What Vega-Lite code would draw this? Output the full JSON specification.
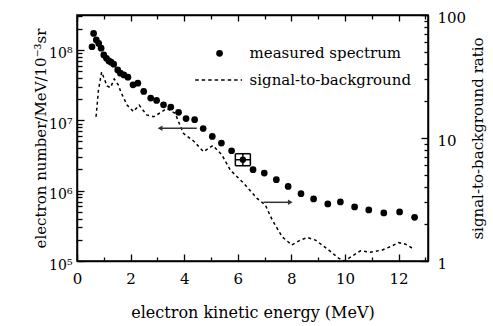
{
  "$schema": "https://vega.github.io/schema/vega-lite/v6.json",
  "width": 351,
  "height": 246,
  "autosize": {"type": "none"},
  "padding": {"left": 77, "top": 15, "right": 65, "bottom": 65},
  "background": "white",
  "config": {
    "font": "DejaVu Serif",
    "view": {"stroke": "black", "strokeWidth": 1.5},
    "text": {"font": "DejaVu Serif"},
    "axis": {
      "labelFont": "DejaVu Serif",
      "titleFont": "DejaVu Serif",
      "labelColor": "black",
      "titleColor": "black",
      "titleFontWeight": "normal",
      "domainColor": "black",
      "domainWidth": 1.5,
      "tickColor": "black",
      "tickWidth": 1.3,
      "grid": false,
      "labelFlush": false,
      "labelOverlap": false
    }
  },
  "datasets": {
    "spectrum": [
      {"E": 0.56, "N": 111000000}, {"E": 0.62, "N": 172000000}, {"E": 0.72, "N": 139000000},
      {"E": 0.81, "N": 124000000}, {"E": 0.90, "N": 106000000}, {"E": 1.00, "N": 85000000},
      {"E": 1.10, "N": 76000000}, {"E": 1.19, "N": 69800000}, {"E": 1.27, "N": 67000000},
      {"E": 1.37, "N": 62700000}, {"E": 1.52, "N": 52000000}, {"E": 1.62, "N": 46700000},
      {"E": 1.75, "N": 44200000}, {"E": 1.90, "N": 41000000}, {"E": 2.09, "N": 31900000},
      {"E": 2.27, "N": 33700000}, {"E": 2.49, "N": 25700000}, {"E": 2.75, "N": 20700000},
      {"E": 2.97, "N": 19200000}, {"E": 3.23, "N": 16600000}, {"E": 3.50, "N": 15400000},
      {"E": 3.79, "N": 13000000}, {"E": 4.07, "N": 10600000}, {"E": 4.39, "N": 10200000},
      {"E": 4.71, "N": 7650000}, {"E": 5.05, "N": 5900000}, {"E": 5.39, "N": 4750000},
      {"E": 5.77, "N": 3690000}, {"E": 6.57, "N": 1990000}, {"E": 6.99, "N": 1780000},
      {"E": 7.44, "N": 1430000}, {"E": 7.88, "N": 1150000}, {"E": 8.36, "N": 906000},
      {"E": 8.83, "N": 762000}, {"E": 9.36, "N": 647000}, {"E": 9.83, "N": 692000},
      {"E": 10.36, "N": 587000}, {"E": 10.89, "N": 532000}, {"E": 11.45, "N": 483000},
      {"E": 12.04, "N": 499000}, {"E": 12.60, "N": 418000}
    ],
    "ratio": [
      {"E": 0.71, "R": 14.9}, {"E": 0.77, "R": 20.4}, {"E": 0.80, "R": 24.5}, {"E": 0.92, "R": 34.4},
      {"E": 1.01, "R": 30.6}, {"E": 1.12, "R": 26.5}, {"E": 1.25, "R": 25.7}, {"E": 1.39, "R": 30.2},
      {"E": 1.54, "R": 27.0}, {"E": 1.64, "R": 23.6}, {"E": 1.87, "R": 18.5}, {"E": 2.11, "R": 16.4},
      {"E": 2.32, "R": 18.5}, {"E": 2.60, "R": 15.4}, {"E": 2.86, "R": 14.9}, {"E": 3.10, "R": 16.0},
      {"E": 3.35, "R": 17.4}, {"E": 3.66, "R": 15.9}, {"E": 3.97, "R": 10.9}, {"E": 4.35, "R": 9.46},
      {"E": 4.72, "R": 7.74}, {"E": 5.07, "R": 8.69}, {"E": 5.41, "R": 7.28}, {"E": 5.72, "R": 5.49},
      {"E": 6.22, "R": 4.29}, {"E": 6.72, "R": 3.23}, {"E": 7.03, "R": 2.85}, {"E": 7.29, "R": 2.15},
      {"E": 7.66, "R": 1.57}, {"E": 8.02, "R": 1.35}, {"E": 8.34, "R": 1.48}, {"E": 8.60, "R": 1.55},
      {"E": 8.90, "R": 1.48}, {"E": 9.39, "R": 1.23}, {"E": 9.77, "R": 1.05}, {"E": 9.98, "R": 1.0},
      {"E": 10.28, "R": 1.10}, {"E": 10.58, "R": 1.21}, {"E": 10.95, "R": 1.18}, {"E": 11.40, "R": 1.23},
      {"E": 11.70, "R": 1.31}, {"E": 12.01, "R": 1.41}, {"E": 12.26, "R": 1.37}, {"E": 12.57, "R": 1.25}
    ],
    "errbar": [
      {"E": 6.19, "Elo": 5.91, "Ehi": 6.47, "N": 2750000, "Nlo": 2260000, "Nhi": 3350000}
    ],
    "arrows": [
      {"Efrom": 4.47, "Eto": 3.10, "N": 7690000, "dir": "left"},
      {"Efrom": 6.96, "Eto": 7.96, "N": 683000, "dir": "right"}
    ],
    "legend": [
      {"label": "measured spectrum", "sym": "dot", "Etext": 6.44, "Es1": 5.32, "Es2": 5.32, "N": 89700000},
      {"label": "signal-to-background", "sym": "dash", "Etext": 6.44, "Es1": 4.41, "Es2": 6.16, "N": 37500000}
    ]
  },
  "resolve": {"scale": {"x": "independent", "y": "independent"}},
  "layer": [
    {
      "data": {"name": "ratio"},
      "mark": {"type": "line", "color": "black", "strokeWidth": 1.5, "strokeDash": [3, 3]},
      "encoding": {
        "x": {"field": "E", "type": "quantitative",
          "scale": {"domain": [0, 13.1], "nice": false, "zero": false},
          "axis": {"orient": "top", "values": [0,1,2,3,4,5,6,7,8,9,10,11,12,13], "labels": false, "title": null,
            "tickSize": {"condition": {"test": "datum.value % 2 == 0", "value": -6}, "value": -4}}},
        "y": {"field": "R", "type": "quantitative",
          "scale": {"type": "log", "domain": [1, 100], "nice": false},
          "axis": {"orient": "right", "values": [1,2,3,4,5,6,7,8,9,10,20,30,40,50,60,70,80,90,100],
            "labelExpr": "datum.value == 1 || datum.value == 10 || datum.value == 100 ? datum.label : ''",
            "tickSize": {"condition": {"test": "datum.value == 1 || datum.value == 10 || datum.value == 100", "value": -7}, "value": -4},
            "labelFontSize": 15, "labelPadding": 16, "labelOffset": 2, "labelBaseline": "middle",
            "title": "signal-to-background ratio", "titleFontSize": 15, "titleAngle": -90, "titlePadding": 20}}
      }
    },
    {
      "data": {"name": "spectrum"},
      "mark": {"type": "point", "filled": true, "shape": "circle", "size": 45, "color": "black", "opacity": 1},
      "encoding": {
        "x": {"field": "E", "type": "quantitative",
          "scale": {"domain": [0, 13.1], "nice": false, "zero": false},
          "axis": {"orient": "bottom", "values": [0,1,2,3,4,5,6,7,8,9,10,11,12,13],
            "labelExpr": "datum.value % 2 == 0 ? datum.label : ''",
            "tickSize": {"condition": {"test": "datum.value % 2 == 0", "value": -7}, "value": -4},
            "labelFontSize": 15, "labelPadding": 17,
            "title": "electron kinetic energy (MeV)", "titleFontSize": 16, "titlePadding": 15}},
        "y": {"field": "N", "type": "quantitative",
          "scale": {"type": "log", "domain": [100000, 314000000], "nice": false},
          "axis": {"orient": "left",
            "values": [100000,200000,300000,400000,500000,600000,700000,800000,900000,1000000,2000000,3000000,4000000,5000000,6000000,7000000,8000000,9000000,10000000,20000000,30000000,40000000,50000000,60000000,70000000,80000000,90000000,100000000,200000000,300000000],
            "labelExpr": "datum.value == 100000 ? '10⁵' : datum.value == 1000000 ? '10⁶' : datum.value == 10000000 ? '10⁷' : datum.value == 100000000 ? '10⁸' : ''",
            "tickSize": {"condition": {"test": "datum.value == 100000 || datum.value == 1000000 || datum.value == 10000000 || datum.value == 100000000", "value": -7}, "value": -5},
            "labelFontSize": 14, "labelPadding": 12, "labelOffset": 4, "labelBaseline": "middle",
            "title": "electron number/MeV/10⁻³sr", "titleFontSize": 15, "titlePadding": 0}}
      }
    },
    {
      "data": {"name": "errbar"},
      "layer": [
        {"mark": {"type": "rule", "color": "black", "strokeWidth": 1.5},
         "encoding": {"x": {"field": "Elo", "type": "quantitative", "scale": {"domain": [0, 13.1], "nice": false, "zero": false}, "axis": null},
                      "x2": {"field": "Ehi"},
                      "y": {"field": "N", "type": "quantitative", "scale": {"type": "log", "domain": [100000, 314000000], "nice": false}, "axis": null}}},
        {"mark": {"type": "rule", "color": "black", "strokeWidth": 1.5},
         "encoding": {"x": {"field": "Elo", "type": "quantitative", "scale": {"domain": [0, 13.1], "nice": false, "zero": false}, "axis": null},
                      "x2": {"field": "Ehi"},
                      "y": {"field": "Nlo", "type": "quantitative", "scale": {"type": "log", "domain": [100000, 314000000], "nice": false}, "axis": null}}},
        {"mark": {"type": "rule", "color": "black", "strokeWidth": 1.5},
         "encoding": {"x": {"field": "Elo", "type": "quantitative", "scale": {"domain": [0, 13.1], "nice": false, "zero": false}, "axis": null},
                      "x2": {"field": "Ehi"},
                      "y": {"field": "Nhi", "type": "quantitative", "scale": {"type": "log", "domain": [100000, 314000000], "nice": false}, "axis": null}}},
        {"mark": {"type": "rule", "color": "black", "strokeWidth": 1.5},
         "encoding": {"x": {"field": "Elo", "type": "quantitative", "scale": {"domain": [0, 13.1], "nice": false, "zero": false}, "axis": null},
                      "y": {"field": "Nlo", "type": "quantitative", "scale": {"type": "log", "domain": [100000, 314000000], "nice": false}, "axis": null},
                      "y2": {"field": "Nhi"}}},
        {"mark": {"type": "rule", "color": "black", "strokeWidth": 1.5},
         "encoding": {"x": {"field": "Ehi", "type": "quantitative", "scale": {"domain": [0, 13.1], "nice": false, "zero": false}, "axis": null},
                      "y": {"field": "Nlo", "type": "quantitative", "scale": {"type": "log", "domain": [100000, 314000000], "nice": false}, "axis": null},
                      "y2": {"field": "Nhi"}}},
        {"mark": {"type": "rule", "color": "black", "strokeWidth": 1.5},
         "encoding": {"x": {"field": "E", "type": "quantitative", "scale": {"domain": [0, 13.1], "nice": false, "zero": false}, "axis": null},
                      "y": {"field": "Nlo", "type": "quantitative", "scale": {"type": "log", "domain": [100000, 314000000], "nice": false}, "axis": null},
                      "y2": {"field": "Nhi"}}},
        {"mark": {"type": "point", "filled": true, "shape": "circle", "size": 40, "color": "black", "opacity": 1},
         "encoding": {"x": {"field": "E", "type": "quantitative", "scale": {"domain": [0, 13.1], "nice": false, "zero": false}, "axis": null},
                      "y": {"field": "N", "type": "quantitative", "scale": {"type": "log", "domain": [100000, 314000000], "nice": false}, "axis": null}}}
      ]
    },
    {
      "data": {"name": "arrows"},
      "layer": [
        {"mark": {"type": "rule", "color": "#333333", "strokeWidth": 1.5},
         "encoding": {"x": {"field": "Efrom", "type": "quantitative", "scale": {"domain": [0, 13.1], "nice": false, "zero": false}, "axis": null},
                      "x2": {"field": "Eto"},
                      "y": {"field": "N", "type": "quantitative", "scale": {"type": "log", "domain": [100000, 314000000], "nice": false}, "axis": null}}},
        {"mark": {"type": "point", "filled": true, "size": 30, "color": "#333333", "opacity": 1},
         "encoding": {"x": {"field": "Eto", "type": "quantitative", "scale": {"domain": [0, 13.1], "nice": false, "zero": false}, "axis": null},
                      "y": {"field": "N", "type": "quantitative", "scale": {"type": "log", "domain": [100000, 314000000], "nice": false}, "axis": null},
                      "shape": {"field": "dir", "type": "nominal", "scale": {"domain": ["left", "right"], "range": ["triangle-left", "triangle-right"]}, "legend": null}}}
      ]
    },
    {
      "data": {"name": "legend"},
      "layer": [
        {"transform": [{"filter": "datum.sym == 'dot'"}],
         "mark": {"type": "point", "filled": true, "shape": "circle", "size": 45, "color": "black", "opacity": 1},
         "encoding": {"x": {"field": "Es1", "type": "quantitative", "scale": {"domain": [0, 13.1], "nice": false, "zero": false}, "axis": null},
                      "y": {"field": "N", "type": "quantitative", "scale": {"type": "log", "domain": [100000, 314000000], "nice": false}, "axis": null}}},
        {"transform": [{"filter": "datum.sym == 'dash'"}],
         "mark": {"type": "rule", "color": "black", "strokeWidth": 1.5, "strokeDash": [3.5, 3]},
         "encoding": {"x": {"field": "Es1", "type": "quantitative", "scale": {"domain": [0, 13.1], "nice": false, "zero": false}, "axis": null},
                      "x2": {"field": "Es2"},
                      "y": {"field": "N", "type": "quantitative", "scale": {"type": "log", "domain": [100000, 314000000], "nice": false}, "axis": null}}},
        {"mark": {"type": "text", "align": "left", "baseline": "middle", "font": "DejaVu Serif", "fontSize": 15, "color": "black"},
         "encoding": {"x": {"field": "Etext", "type": "quantitative", "scale": {"domain": [0, 13.1], "nice": false, "zero": false}, "axis": null},
                      "y": {"field": "N", "type": "quantitative", "scale": {"type": "log", "domain": [100000, 314000000], "nice": false}, "axis": null},
                      "text": {"field": "label"}}}
      ]
    }
  ]
}
